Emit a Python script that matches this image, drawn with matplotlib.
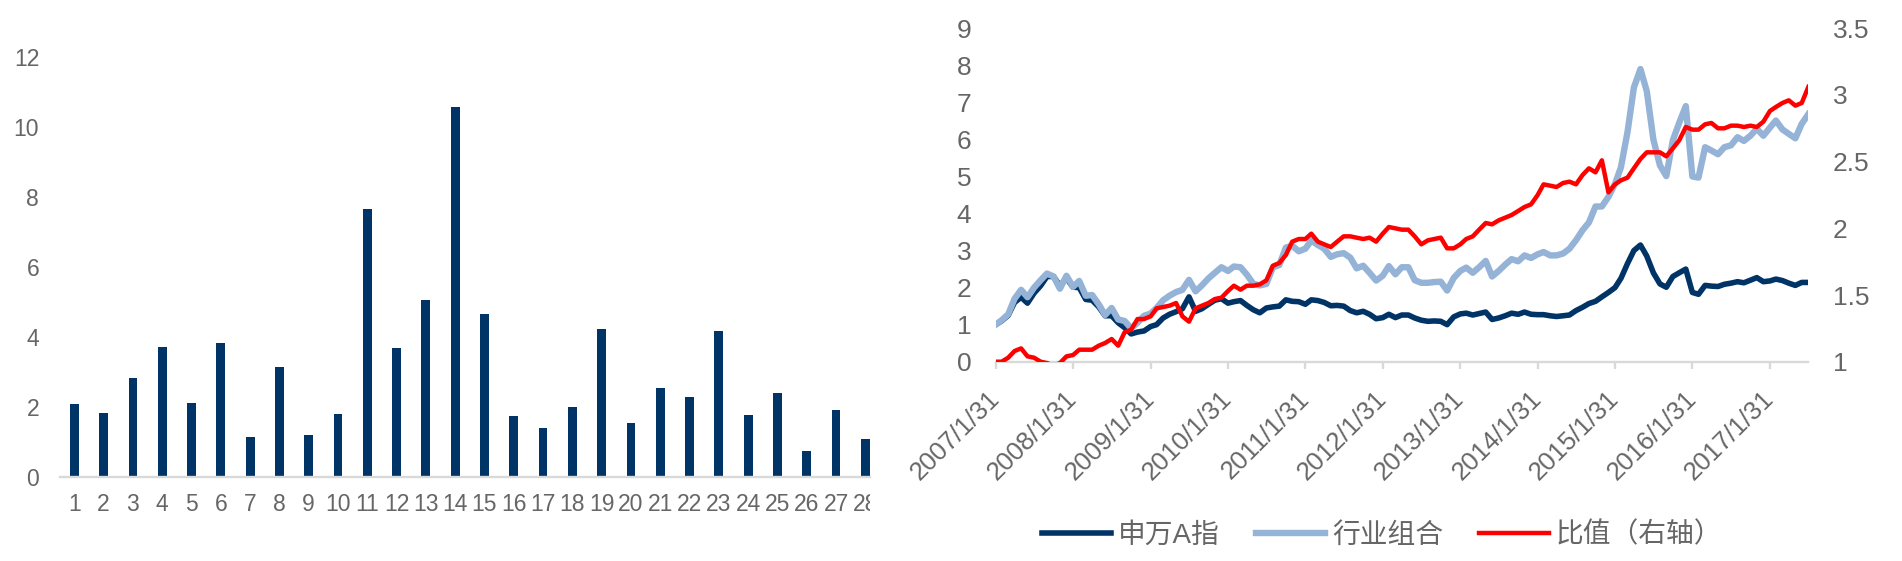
import numpy as np
import pandas as pd
import matplotlib
matplotlib.use('Agg')
import matplotlib.pyplot as plt
from matplotlib.transforms import Bbox, TransformedBbox

plt.rcParams['font.family'] = ['Liberation Sans', 'Noto Sans CJK SC']

# ---- left chart: bars 1..28 ----
bar_labels = [str(i) for i in range(1, 29)]
bar_values = [2.09, 1.85, 2.83, 3.71, 2.12, 3.85, 1.15, 3.16, 1.22, 1.82,
              7.65, 3.70, 5.06, 10.59, 4.67, 1.76, 1.42, 2.00, 4.23, 1.56,
              2.54, 2.29, 4.17, 1.79, 2.40, 0.74, 1.93, 1.09]

# ---- right chart: monthly series 2007/1 - 2017/7 ----
dates = pd.date_range('2007-01-31', periods=127, freq='ME')

sw_a = [1.00, 1.10, 1.25, 1.60, 1.74, 1.58, 1.85, 2.05, 2.30, 2.30,
        2.05, 2.25, 2.01, 2.00, 1.68, 1.66, 1.48, 1.24, 1.24, 1.05,
        0.92, 0.75, 0.80, 0.83, 0.95, 1.00, 1.18, 1.28, 1.35, 1.43,
        1.75, 1.36, 1.43, 1.55, 1.66, 1.70, 1.58, 1.62, 1.65, 1.52,
        1.40, 1.32, 1.45, 1.48, 1.50, 1.67, 1.63, 1.62, 1.55, 1.67,
        1.65, 1.60, 1.51, 1.52, 1.50, 1.38, 1.32, 1.36, 1.28, 1.16,
        1.19, 1.28, 1.19, 1.26, 1.26, 1.18, 1.12, 1.09, 1.10, 1.09,
        1.00, 1.21, 1.29, 1.31, 1.26, 1.30, 1.34, 1.14, 1.18, 1.24,
        1.31, 1.28, 1.34, 1.28, 1.27, 1.27, 1.24, 1.22, 1.24, 1.26,
        1.38, 1.47, 1.57, 1.63, 1.75, 1.87, 2.00, 2.25, 2.65, 3.00,
        3.15, 2.85, 2.40, 2.10, 2.01, 2.30, 2.40, 2.50, 1.87, 1.82,
        2.06, 2.04, 2.03, 2.09, 2.12, 2.16, 2.13, 2.20, 2.27, 2.16,
        2.18, 2.23, 2.19, 2.12, 2.06, 2.14, 2.14]

industry = [1.00, 1.12, 1.28, 1.70, 1.94, 1.74, 2.00, 2.20, 2.38, 2.30,
            1.97, 2.32, 2.02, 2.18, 1.78, 1.80, 1.55, 1.26, 1.45, 1.14,
            1.10, 0.90, 1.05, 1.24, 1.30, 1.45, 1.66, 1.78, 1.88, 1.94,
            2.21, 1.90, 2.06, 2.25, 2.40, 2.55, 2.45, 2.57, 2.55, 2.35,
            2.10, 2.06, 2.10, 2.55, 2.61, 3.08, 3.13, 2.98, 3.05, 3.27,
            3.15, 3.05, 2.83, 2.90, 2.93, 2.81, 2.52, 2.59, 2.40, 2.19,
            2.32, 2.58, 2.36, 2.55, 2.55, 2.20, 2.13, 2.13, 2.15, 2.16,
            1.92, 2.26, 2.45, 2.54, 2.40, 2.55, 2.72, 2.30, 2.45, 2.62,
            2.77, 2.71, 2.87, 2.80, 2.90, 2.96, 2.87, 2.87, 2.92, 3.05,
            3.28, 3.55, 3.76, 4.19, 4.19, 4.45, 4.80, 5.25, 6.20, 7.40,
            7.90, 7.30, 6.00, 5.30, 5.01, 5.98, 6.45, 6.90, 5.00, 4.97,
            5.79, 5.70, 5.60, 5.79, 5.84, 6.06, 5.96, 6.10, 6.29, 6.10,
            6.32, 6.51, 6.27, 6.15, 6.03, 6.42, 6.68]

ratio = [1.00, 1.00, 1.03, 1.08, 1.10, 1.04, 1.03, 1.00, 0.99, 0.97,
         0.99, 1.04, 1.05, 1.09, 1.09, 1.09, 1.12, 1.14, 1.17, 1.12,
         1.22, 1.24, 1.32, 1.32, 1.34, 1.40, 1.41, 1.42, 1.44, 1.34,
         1.30, 1.40, 1.42, 1.44, 1.47, 1.48, 1.53, 1.57, 1.54, 1.57,
         1.57, 1.58, 1.61, 1.72, 1.74, 1.80, 1.90, 1.92, 1.92, 1.96,
         1.90, 1.88, 1.86, 1.90, 1.94, 1.94, 1.93, 1.92, 1.93, 1.90,
         1.96, 2.01, 2.00, 1.99, 1.99, 1.94, 1.88, 1.91, 1.92, 1.93,
         1.85, 1.85, 1.88, 1.92, 1.94, 1.99, 2.04, 2.03, 2.06, 2.08,
         2.10, 2.13, 2.16, 2.18, 2.25, 2.33, 2.32, 2.31, 2.34, 2.35,
         2.33, 2.40, 2.45, 2.42, 2.51, 2.27, 2.33, 2.36, 2.38, 2.45,
         2.52, 2.57, 2.57, 2.57, 2.54, 2.60, 2.66, 2.76, 2.74, 2.74,
         2.78, 2.79, 2.75, 2.75, 2.77, 2.77, 2.76, 2.77, 2.76, 2.80,
         2.88, 2.91, 2.94, 2.96, 2.92, 2.94, 3.06]

series_names = ['申万A指', '行业组合', '比值（右轴）']
left_ticks = list(range(0, 10))
right_ticks = [1, 1.5, 2, 2.5, 3, 3.5]

NAVY = '#003366'
LIGHT = '#95b3d7'
RED = '#ff0000'
AXIS_GRAY = '#d9d9d9'
TXT = '#666666'
FS_BAR = 16.5
FS_LINE = 19

W, H = 1902, 561
fig = plt.figure(figsize=(W / 100, H / 100), dpi=100)

# left bar chart
ax1 = fig.add_axes([60 / W, 83.7 / H, 810 / W, 420.1 / H])
x = np.arange(1, 29)
ax1.bar(x, bar_values, width=0.3, color=NAVY, zorder=2)
ax1.set_xlim(0.51, 28.16)
ax1.set_ylim(0, 12)
ax1.set_yticks(range(0, 13, 2))
ax1.set_xticks(x, bar_labels)
for side in ['top', 'left', 'right']:
    ax1.spines[side].set_visible(False)
ax1.spines['bottom'].set_color(AXIS_GRAY)
ax1.spines['bottom'].set_linewidth(1.7)
ax1.tick_params(axis='y', length=0, pad=15, labelsize=FS_BAR, labelcolor=TXT)
ax1.tick_params(axis='x', length=0, pad=11, labelsize=FS_BAR, labelcolor=TXT)
# the last label is cut off at the chart's right edge
clip = TransformedBbox(Bbox([[0, 0], [870 / W, 1]]), fig.transFigure)
last = ax1.get_xticklabels()[-1]
last.set_clip_box(clip)
last.set_clip_on(True)

# right line chart
ax = fig.add_axes([995.7 / W, 199.3 / H, 812.6 / W, 333.4 / H])
l1, = ax.plot(dates, sw_a, color=NAVY, lw=4.0, solid_joinstyle='round', zorder=2)
l2, = ax.plot(dates, industry, color=LIGHT, lw=4.6, solid_joinstyle='round', zorder=3)
ax.set_xlim(dates[0], dates[-1])
ax.set_ylim(0, 9)
ax.set_yticks(left_ticks)
year_ticks = dates[::12]
ax.set_xticks(year_ticks, [f'{d.year}/{d.month}/{d.day}' for d in year_ticks])
for side in ['top', 'left', 'right']:
    ax.spines[side].set_visible(False)
ax.spines['bottom'].set_color(AXIS_GRAY)
ax.spines['bottom'].set_linewidth(1.7)
ax.tick_params(axis='y', length=0, pad=17.5, labelsize=FS_LINE, labelcolor=TXT)
ax.tick_params(axis='x', direction='out', length=5, width=1.7, color=AXIS_GRAY,
               pad=19, labelsize=18.5, labelcolor=TXT)
for lbl in ax.get_xticklabels():
    lbl.set_rotation(45)
    lbl.set_ha('right')
    lbl.set_va('center')
    lbl.set_rotation_mode('anchor')

ax2 = ax.twinx()
l3, = ax2.plot(dates, ratio, color=RED, lw=3.2, solid_joinstyle='round')
ax2.set_ylim(1, 3.5)
ax2.set_yticks(right_ticks, [f'{v:g}' for v in right_ticks])
for side in ['top', 'left', 'right', 'bottom']:
    ax2.spines[side].set_visible(False)
ax2.tick_params(axis='y', length=0, pad=17.5, labelsize=FS_LINE, labelcolor=TXT)

fig.legend([l1, l2, l3], series_names, loc='center', bbox_to_anchor=(0.7266, 0.046),
           ncol=3, frameon=False, fontsize=20, handlelength=2.5, handletextpad=0.25,
           columnspacing=1.3, labelcolor=TXT)

fig.savefig('out.png', dpi=100, facecolor='white')
